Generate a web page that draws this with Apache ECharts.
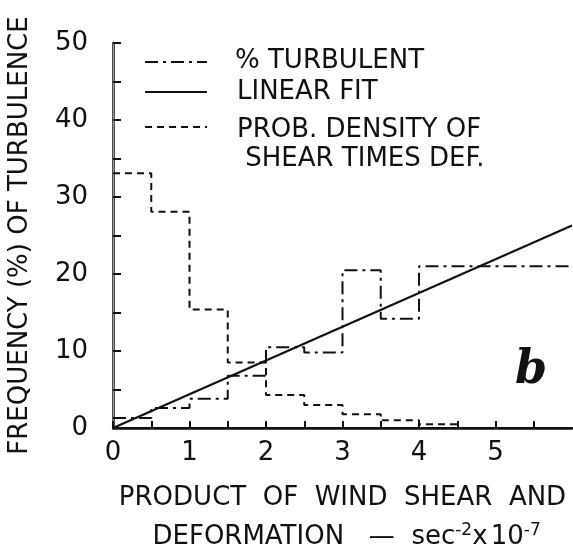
<!DOCTYPE html>
<html>
<head>
<meta charset="utf-8">
<script src="https://cdn.jsdelivr.net/npm/echarts@6/dist/echarts.min.js"></script>
<style>
  html, body { margin: 0; padding: 0; background: #fff; }
  #chart { width: 573px; height: 550px; }
</style>
</head>
<body>
<div id="chart"></div>
<script>
// bin left edges for % turbulent (last bin runs to 6)
const turbEdges = [0, 0.5, 1, 1.5, 2, 2.5, 3, 3.5, 4, 6]
const turbPct = [1.3, 2.6, 3.8, 6.8, 10.5, 9.8, 20.5, 14.2, 21.0]
// probability density of shear times deformation
const densEdges = [0, 0.5, 1, 1.5, 2, 2.5, 3, 3.5, 4, 4.5]
const densPct = [33.1, 28.1, 15.4, 8.5, 4.3, 3.0, 1.8, 1.0, 0.5]
// linear fit end points
const fitX = [0, 6]
const fitY = [0, 26.3]
const xTickLabels = ['0', '1', '2', '3', '4', '5']
const yTickLabels = ['0', '10', '20', '30', '40', '50']

const font = 'DejaVu Sans'
const ink = '#111'

function stepPoints(edges, vals) {
  const pts = vals.map((v, i) => [edges[i], v])
  pts.push([edges[edges.length - 1], vals[vals.length - 1]])
  return pts
}

const chart = echarts.init(document.getElementById('chart'))

chart.setOption({
  backgroundColor: '#fff',
  animation: false,
  grid: { left: 113, right: 1, top: 43, bottom: 122, containLabel: false, outerBoundsMode: 'none' },
  xAxis: [
    {
      type: 'value',
      min: 0,
      max: 6,
      interval: 0.5,
      splitLine: { show: false },
      axisLine: { lineStyle: { color: ink, width: 2.5 } },
      axisTick: { inside: true, length: 7, lineStyle: { color: ink, width: 2 } },
      axisLabel: {
        margin: 12,
        fontFamily: font,
        fontSize: 26,
        color: ink,
        showMaxLabel: false,
        formatter: v => (Number.isInteger(v) && v < xTickLabels.length) ? xTickLabels[v] : ''
      },
      name: 'PRODUCT  OF  WIND  SHEAR  AND\n DEFORMATION   —  sec{sup|-2}x{sp| }10{sup|-7}',
      nameLocation: 'middle',
      nameGap: 51,
      nameTextStyle: {
        fontFamily: font,
        fontSize: 26,
        color: ink,
        lineHeight: 39,
        align: 'center',
        rich: {
          sup: { fontFamily: font, fontSize: 17, color: ink, padding: [0, 0, 14, 0] },
          sp: { fontFamily: font, fontSize: 10 }
        }
      }
    },
    {
      type: 'value',
      position: 'top',
      min: 0,
      max: 6,
      axisLine: { show: true, lineStyle: { color: ink, width: 2 } },
      axisTick: { show: false },
      axisLabel: { show: false },
      splitLine: { show: false }
    }
  ],
  yAxis: [
    {
      type: 'value',
      min: 0,
      max: 50,
      interval: 5,
      splitLine: { show: false },
      axisLine: { show: true, lineStyle: { color: ink, width: 2.5 } },
      axisTick: { show: true, inside: true, length: 8, lineStyle: { color: ink, width: 2 } },
      axisLabel: {
        margin: 25,
        fontFamily: font,
        fontSize: 26,
        color: ink,
        formatter: v => (v % 10 === 0) ? yTickLabels[v / 10] : ''
      },
      name: 'FREQUENCY (%) OF TURBULENCE',
      nameLocation: 'middle',
      nameGap: 80,
      nameTextStyle: { fontFamily: font, fontSize: 26, color: ink }
    },
    {
      type: 'value',
      position: 'right',
      min: 0,
      max: 50,
      axisLine: { show: true, lineStyle: { color: '#999', width: 1 } },
      axisTick: { show: false },
      axisLabel: { show: false },
      splitLine: { show: false }
    }
  ],
  series: [
    {
      name: '% TURBULENT',
      type: 'line',
      step: 'end',
      symbol: 'none',
      lineStyle: { color: ink, width: 2, type: [13, 5, 3, 5] },
      data: stepPoints(turbEdges, turbPct)
    },
    {
      name: 'LINEAR FIT',
      type: 'line',
      symbol: 'none',
      lineStyle: { color: ink, width: 2.2 },
      data: fitX.map((x, i) => [x, fitY[i]])
    },
    {
      name: 'PROB. DENSITY OF SHEAR TIMES DEF.',
      type: 'line',
      step: 'end',
      symbol: 'none',
      lineStyle: { color: ink, width: 2, type: [7, 5] },
      data: stepPoints(densEdges, densPct)
    }
  ],
  graphic: [
    { type: 'line', shape: { x1: 145, y1: 62, x2: 207, y2: 62 },
      style: { stroke: ink, lineWidth: 2, lineDash: [13, 5, 3, 5] } },
    { type: 'text', left: 235, top: 48,
      style: { text: '% TURBULENT', font: '26px "DejaVu Sans"', fill: ink } },
    { type: 'line', shape: { x1: 145, y1: 92, x2: 207, y2: 92 },
      style: { stroke: ink, lineWidth: 2.2 } },
    { type: 'text', left: 237, top: 79,
      style: { text: 'LINEAR FIT', font: '26px "DejaVu Sans"', fill: ink } },
    { type: 'line', shape: { x1: 145, y1: 127, x2: 207, y2: 127 },
      style: { stroke: ink, lineWidth: 2, lineDash: [7, 5] } },
    { type: 'text', left: 237, top: 116,
      style: { text: 'PROB. DENSITY OF\n SHEAR TIMES DEF.', font: '26px "DejaVu Sans"', fill: ink, lineHeight: 29 } },
    { type: 'text', left: 515, top: 348,
      style: { text: 'b', font: 'italic bold 46px "DejaVu Serif"', fill: ink } }
  ]
})
</script>
</body>
</html>
